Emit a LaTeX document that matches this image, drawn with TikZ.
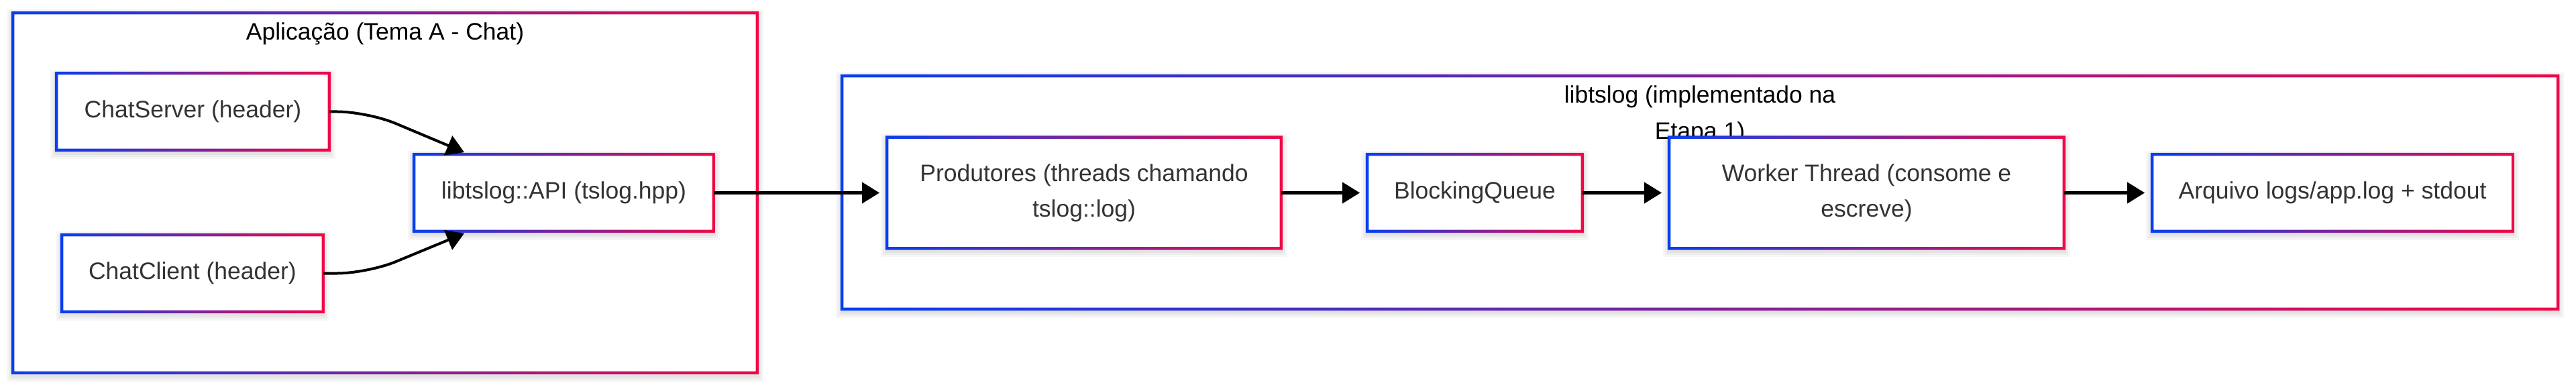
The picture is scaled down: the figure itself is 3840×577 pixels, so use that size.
\documentclass[tikz,border=0pt]{standalone}
\usepackage{fontspec}
\setmainfont{Liberation Sans}
\usetikzlibrary{arrows.meta}
\definecolor{gblue}{RGB}{8,62,240}
\definecolor{gred}{RGB}{240,8,72}
\definecolor{txtgray}{RGB}{51,51,51}
\newcommand\gborder[1]{\shade[left color=gblue,right color=gred,even odd rule]
 ([shift={(-2.25pt,2.25pt)}]#1.north west) rectangle ([shift={(2.25pt,-2.25pt)}]#1.south east)
 ([shift={(2.25pt,-2.25pt)}]#1.north west) rectangle ([shift={(-2.25pt,2.25pt)}]#1.south east);}
\begin{document}
\begin{tikzpicture}[x=1pt,y=-1pt,
  softshadow/.style={
    preaction={draw=black, draw opacity=0.035, fill=none, line width=18pt, transform canvas={yshift=-4pt}},
    preaction={draw=black, draw opacity=0.035, fill=none, line width=12pt, transform canvas={yshift=-4pt}},
    preaction={draw=black, draw opacity=0.04, fill=none, line width=6pt, transform canvas={yshift=-4pt}}},
  cluster/.style={rectangle, inner sep=0pt, fill=white, softshadow},
  box/.style={rectangle, inner sep=0pt, fill=white, softshadow, text=txtgray, align=center,
    font=\fontsize{35.5pt}{53.3pt}\selectfont, minimum height=114.5pt},
  ttl/.style={inner sep=0pt, text=black, align=center, font=\fontsize{35.5pt}{53.3pt}\selectfont},
  arr/.style={line width=4pt, draw=black, -{Triangle[length=26pt,width=31pt]}},
]
\useasboundingbox (0,0) rectangle (3840,577);
\fill[white] (0,0) rectangle (3840,577);
% clusters
\node[cluster, minimum width=1109.5pt, minimum height=536.5pt] (app) at (574,287.5) {};
\node[cluster, minimum width=2557.5pt, minimum height=347.5pt] (lib) at (2534,287) {};
\gborder{app}
\gborder{lib}
\node[ttl, anchor=base] (appT) at (574,60) {Aplicação (Tema A - Chat)};
\node[ttl, anchor=north] (libT) at (2534,128) {libtslog (implementado na\\Etapa 1)};
% nodes
\node[box, minimum width=406.5pt] (cs) at (287.5,166.5) {ChatServer (header)};
\node[box, minimum width=389.5pt] (cc) at (287,407.5) {ChatClient (header)};
\node[box, minimum width=446.5pt] (api) at (840.5,287.5) {libtslog::API (tslog.hpp)};
\node[box, minimum width=587.5pt, minimum height=165.5pt] (prod) at (1616,287.5) {Produtores (threads chamando\\tslog::log)};
\node[box, minimum width=320.5pt] (bq) at (2198.5,287.5) {BlockingQueue};
\node[box, minimum width=588.5pt, minimum height=165.5pt] (wk) at (2782.5,287.5) {Worker Thread (consome e\\escreve)};
\node[box, minimum width=537.5pt] (ar) at (3477,287.5) {Arquivo logs/app.log + stdout};
\gborder{cs}
\gborder{cc}
\gborder{api}
\gborder{prod}
\gborder{bq}
\gborder{wk}
\gborder{ar}
% connectors
\draw[arr, rounded corners=45pt] (cs.east) -- ([xshift=57pt]cs.east) -- ([xshift=75pt,yshift=3pt]api.north west);
\draw[arr, rounded corners=45pt] (cc.east) -- ([xshift=66pt]cc.east) -- ([xshift=75pt,yshift=-3pt]api.south west);
\draw[arr, shorten >=11pt] (api.east) -- (prod.west);
\draw[arr, shorten >=11pt] (prod.east) -- (bq.west);
\draw[arr, shorten >=11pt] (bq.east) -- (wk.west);
\draw[arr, shorten >=11pt] (wk.east) -- (ar.west);
\end{tikzpicture}
\end{document}
